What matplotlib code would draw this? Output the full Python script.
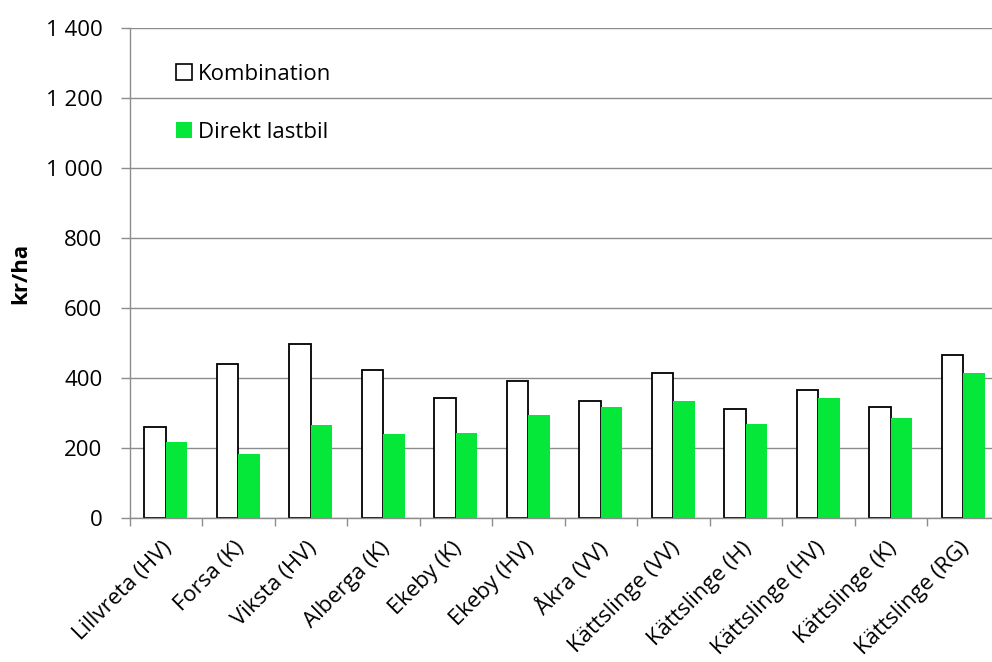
import matplotlib
matplotlib.use("Agg")
import matplotlib.pyplot as plt
import matplotlib.transforms as mtransforms
import numpy as np
from matplotlib.patches import Patch
from matplotlib.ticker import FixedLocator, FuncFormatter

plt.rcParams['font.family'] = ['Open Sans', 'DejaVu Sans']

categories = ["Lillvreta (HV)", "Forsa (K)", "Viksta (HV)", "Alberga (K)",
              "Ekeby (K)", "Ekeby (HV)", "Åkra (VV)", "Kättslinge (VV)",
              "Kättslinge (H)", "Kättslinge (HV)", "Kättslinge (K)",
              "Kättslinge (RG)"]
kombination = [261, 440, 496, 424, 343, 392, 334, 415, 311, 365, 318, 465]
direkt_lastbil = [218, 184, 266, 241, 244, 295, 318, 334, 270, 342, 287, 413]
series_names = ["Kombination", "Direkt lastbil"]
yticks = [0, 200, 400, 600, 800, 1000, 1200, 1400]

GREEN = "#05E839"
GRID = "#8C8C8C"
FS = 16

W, H = 992, 662
fig = plt.figure(figsize=(W / 100, H / 100), dpi=100)
# axis spans 12 categories of ~72.5 px; the right end runs past the canvas
left, right, top, bottom = 129.5, 999.5, 28, 518
ax = fig.add_axes([left / W, 1 - bottom / H, (right - left) / W, (bottom - top) / H])

x = np.arange(len(categories))
bw = 0.297
ax.bar(x - bw / 2, kombination, width=bw, facecolor="white", edgecolor="black",
       linewidth=1.3, zorder=3, label=series_names[0])
ax.bar(x + bw / 2, direkt_lastbil, width=bw, facecolor=GREEN, edgecolor="none",
       zorder=3, label=series_names[1])

ax.set_xlim(-0.5, len(categories) - 0.5)
ax.set_ylim(0, 1400)
ax.set_yticks(yticks)
ax.yaxis.set_major_formatter(FuncFormatter(lambda v, p: f"{int(v):,}".replace(",", " ")))
ax.grid(axis="y", color=GRID, linewidth=1.0, zorder=0)
ax.set_axisbelow(True)

for s in ["top", "right"]:
    ax.spines[s].set_visible(False)
for s in ["left", "bottom"]:
    ax.spines[s].set_color(GRID)
    ax.spines[s].set_linewidth(1.0)
    ax.spines[s].set_zorder(4)

ax.tick_params(axis="y", direction="out", length=6.5, width=1.0, color=GRID,
               labelsize=FS, pad=13, labelcolor="black")
ax.set_xticks(x)
ax.set_xticklabels(categories, rotation=45, ha="right", rotation_mode="anchor",
                   fontsize=FS)
ax.tick_params(axis="x", which="major", length=0, pad=14)
ax.xaxis.set_minor_locator(FixedLocator(np.arange(-0.5, len(categories), 1.0)))
ax.tick_params(axis="x", which="minor", direction="out", length=6, width=1.0, color=GRID)
for lab in ax.get_xticklabels():
    lab.set_transform(lab.get_transform() + mtransforms.ScaledTranslation(
        -0.04, 0, fig.dpi_scale_trans))

ax.set_ylabel("kr/ha", fontsize=FS, fontweight="bold")
ax.yaxis.set_label_coords((31 - left) / (right - left), 0.5)

handles = [Patch(facecolor="white", edgecolor="black", linewidth=1.2),
           Patch(facecolor=GREEN, edgecolor="none")]
leg = ax.legend(handles, series_names, loc="upper left",
                bbox_to_anchor=((176 - left) / (right - left), (bottom - 64) / (bottom - top)),
                frameon=False, fontsize=FS, handlelength=0.7, handleheight=0.7,
                handletextpad=0.3, labelspacing=1.65, borderaxespad=0, borderpad=0)

fig.savefig("out.png", dpi=100)
